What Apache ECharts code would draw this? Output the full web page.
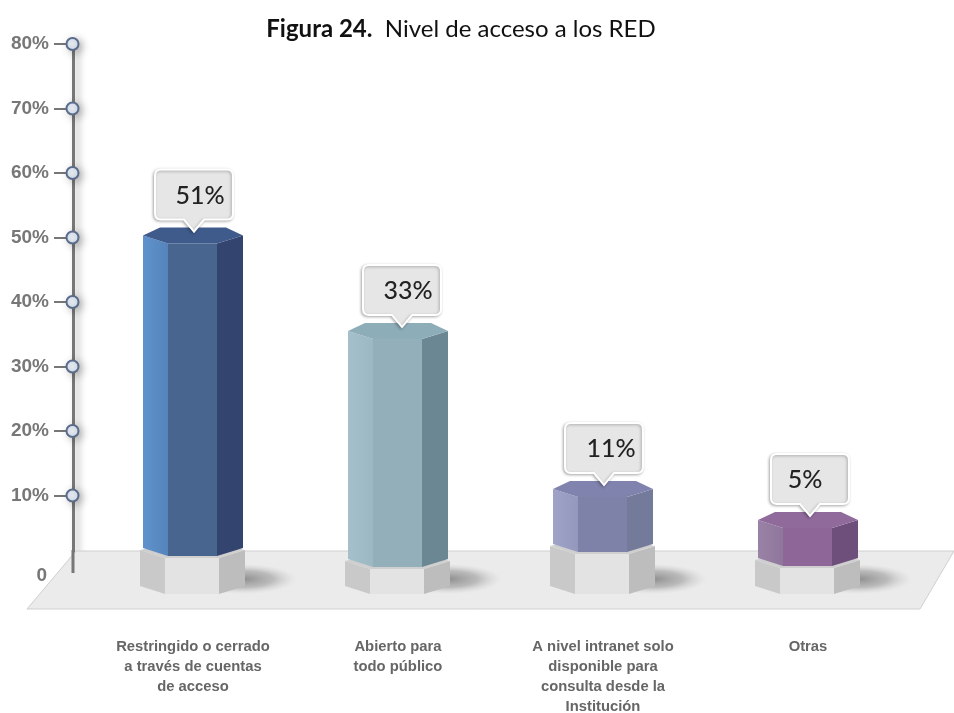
<!DOCTYPE html>
<html>
<head>
<meta charset="utf-8">
<style>html,body{margin:0;padding:0;background:#fff}#c{width:954px;height:713px}</style>
<script src="https://cdn.jsdelivr.net/npm/echarts@6/dist/echarts.min.js"></script>
</head>
<body>
<div id="c"></div>
<script>
const categories = [
  'Restringido o cerrado\na través de cuentas\nde acceso',
  'Abierto para\ntodo público',
  'A nivel intranet solo\ndisponible para\nconsulta desde la\nInstitución',
  'Otras'
];
// Printed value of each bar (callout text)
const values = [51, 33, 11, 5];
// Height each bar reaches against the axis in the picture, which differs a little from its printed value
const drawnLevels = [50.3, 35.5, 11, 6.2];
const tickValues = [10, 20, 30, 40, 50, 60, 70, 80];

// Style and layout constants
const AXIS_SHIFT = 17.5;
const palettes = [
  {l1:'#5f92cc', l2:'#5584bb', c:'#47658f', r:'#33446f', t:'#3e5b8b'},
  {l1:'#a5c0cb', l2:'#9bb8c3', c:'#93b0ba', r:'#6c8794', t:'#8dadb8'},
  {l1:'#a0a3c8', l2:'#9598bd', c:'#7f82a8', r:'#747a9a', t:'#7f83ad'},
  {l1:'#9a82a6', l2:'#8f779c', c:'#8f6698', r:'#6e4f7b', t:'#916a9c'}
];
const baseShift = [-4, 7, -8, 6];
const calloutShift = [1, 4, 1, 2];
const textShift = [6, 6, 7, -5];

function poly(points, fill, extra) {
  return Object.assign({type: 'polygon', shape: {points}, style: {fill}}, extra || {});
}

function renderFloor(params, api) {
  if (params.dataIndex !== 0) return null;
  const y0 = api.coord([0, 0])[1];
  const ax = params.coordSys.x - AXIS_SHIFT;
  return {type: 'group', children: [
    poly([[ax + 3, y0 - 9], [954, y0 - 9], [920, y0 + 49], [27, y0 + 49]], '#ebebeb'),
    {type: 'polyline', shape: {points: [[27, y0 + 49], [ax + 3, y0 - 9], [954, y0 - 9], [920, y0 + 49], [27, y0 + 49]]},
      style: {stroke: '#cfcfcf', lineWidth: 1, fill: null}},
    {type: 'line', shape: {x1: ax, y1: y0 - 10, x2: ax, y2: y0 + 13},
      style: {stroke: '#777', lineWidth: 3}}
  ]};
}

function renderCircle(params, api) {
  const y = api.coord([0, api.value(0)])[1];
  const x = params.coordSys.x - AXIS_SHIFT;
  return {type: 'circle', shape: {cx: x - 0.5, cy: y, r: 6}, style: {
    fill: new echarts.graphic.RadialGradient(0.5, 0.5, 0.6, [
      {offset: 0, color: '#f4f8fd'}, {offset: 1, color: '#cfdeef'}]),
    stroke: '#5b6b8a', lineWidth: 2,
    shadowColor: 'rgba(0,0,0,0.25)', shadowBlur: 9, shadowOffsetX: 3, shadowOffsetY: 2
  }};
}

function renderBar(params, api) {
  const i = params.dataIndex;
  const p = palettes[i];
  const cx = api.coord([api.value(0), 0])[0];
  const y0 = api.coord([api.value(0), 0])[1];
  const top = api.coord([api.value(0), api.value(1)])[1];
  const base = y0 + baseShift[i];
  const floorFront = y0 + 34;
  const ch = [];

  // ground shadow
  ch.push({type: 'circle', x: cx + 50, y: y0 + 19, scaleY: 0.28,
    shape: {cx: 0, cy: 0, r: 54},
    style: {fill: new echarts.graphic.RadialGradient(0.5, 0.5, 0.5, [
      {offset: 0, color: 'rgba(80,80,80,0.6)'},
      {offset: 0.55, color: 'rgba(120,120,120,0.42)'},
      {offset: 1, color: 'rgba(190,190,190,0)'}])}});

  // pedestal
  const pTop = base + 2, pCorner = pTop - 8;
  ch.push(poly([[cx - 53, pCorner], [cx - 28, pTop], [cx - 28, floorFront], [cx - 53, floorFront - 8]], '#c9c9c9'));
  ch.push(poly([[cx - 28, pTop], [cx + 26, pTop], [cx + 26, floorFront], [cx - 28, floorFront]], '#e3e3e3'));
  ch.push(poly([[cx + 26, pTop], [cx + 52, pCorner], [cx + 52, floorFront - 8], [cx + 26, floorFront]], '#bdbdbd'));
  ch.push(poly([[cx - 53, pCorner], [cx - 28, pCorner - 6], [cx + 26, pCorner - 6], [cx + 52, pCorner], [cx + 26, pTop], [cx - 28, pTop]], '#cfcfcf'));

  // column faces
  const corner = base - 8;
  ch.push(poly([[cx - 50, top], [cx - 25, top + 8], [cx - 25, base], [cx - 50, corner]],
    new echarts.graphic.LinearGradient(0, 0, 1, 0, [{offset: 0, color: p.l1}, {offset: 1, color: p.l2}])));
  ch.push(poly([[cx - 25, top + 8], [cx + 24, top + 8], [cx + 24, base], [cx - 25, base]], p.c));
  ch.push(poly([[cx + 24, top + 8], [cx + 50, top], [cx + 50, corner], [cx + 24, base]], p.r));
  ch.push(poly([[cx - 50, top], [cx - 33, top - 8], [cx + 33, top - 8], [cx + 50, top], [cx + 24, top + 8], [cx - 25, top + 8]], p.t));

  // callout
  const W = 78, H = 62, B = 50, r = 6;
  const mid = cx + calloutShift[i];
  const tipY = top - 4;
  const left = mid - W / 2, up = tipY - H;
  const d = `M${r} 0H${W - r}Q${W} 0 ${W} ${r}V${B - r}Q${W} ${B} ${W - r} ${B}H${W / 2 + 10}L${W / 2} ${H}L${W / 2 - 10} ${B}H${r}Q0 ${B} 0 ${B - r}V${r}Q0 0 ${r} 0Z`;
  ch.push({type: 'path', x: left, y: up,
    shape: {pathData: d, layout: 'cover', x: 0, y: 0, width: W, height: H},
    style: {fill: '#e6e6e6', stroke: '#fff', lineWidth: 2,
      shadowColor: 'rgba(0,0,0,0.28)', shadowBlur: 3, shadowOffsetX: -1, shadowOffsetY: 1}});
  ch.push({type: 'text', x: mid + textShift[i], y: up + 26, style: {
    text: api.value(2) + '%', fill: '#222', font: '500 25px Lato',
    align: 'center', verticalAlign: 'middle'}});

  return {type: 'group', children: ch};
}

const chart = echarts.init(document.getElementById('c'), null, {renderer: 'canvas'});
chart.setOption({
  animation: false,
  backgroundColor: '#fff',
  title: {
    text: '{b|Figura 24.}{n|  Nivel de acceso a los RED}',
    left: 456, top: 12, textAlign: 'center',
    textStyle: {rich: {
      b: {fontFamily: 'Lato', fontWeight: 'bold', fontSize: 24, color: '#111'},
      n: {fontFamily: 'Lato', fontWeight: 'normal', fontSize: 24, color: '#111'}
    }}
  },
  grid: {left: 90.5, right: 43.5, top: 44, bottom: 153, outerBoundsMode: 'none'},
  xAxis: {
    type: 'category', data: categories,
    axisLine: {show: false}, axisTick: {show: false},
    axisLabel: {
      margin: 77, interval: 0, align: 'center', verticalAlign: 'top',
      color: '#666', fontFamily: 'Liberation Sans', fontWeight: 'bold',
      fontSize: 14.8, lineHeight: 20
    }
  },
  yAxis: {
    type: 'value', min: 0, max: 80, interval: 10, offset: AXIS_SHIFT,
    splitLine: {show: false},
    axisLine: {show: true, lineStyle: {color: '#777', width: 3,
      shadowColor: 'rgba(0,0,0,0.3)', shadowBlur: 7, shadowOffsetX: 4}},
    axisTick: {show: true, length: 19, customValues: tickValues, lineStyle: {color: '#777', width: 2}},
    axisLabel: {
      margin: 24, color: '#777', fontFamily: 'Liberation Sans', fontWeight: 'bold', fontSize: 19,
      formatter: v => v === 0 ? '{z|0}' : v + '%',
      rich: {z: {padding: [32, 2, 0, 0], color: '#777', fontFamily: 'Liberation Sans', fontWeight: 'bold', fontSize: 19}}
    }
  },
  series: [
    {type: 'custom', name: 'suelo', z: 1, silent: true, renderItem: renderFloor, data: [[0]], clip: false},
    {type: 'custom', name: 'marcas', z: 2, silent: true, renderItem: renderCircle,
      data: tickValues.map(v => [v]), encode: {y: 0}, clip: false},
    {type: 'custom', name: 'Nivel de acceso', z: 3, renderItem: renderBar,
      data: categories.map((c, i) => [i, drawnLevels[i], values[i]]),
      encode: {x: 0, y: 1}, clip: false}
  ]
});
</script>
</body>
</html>
